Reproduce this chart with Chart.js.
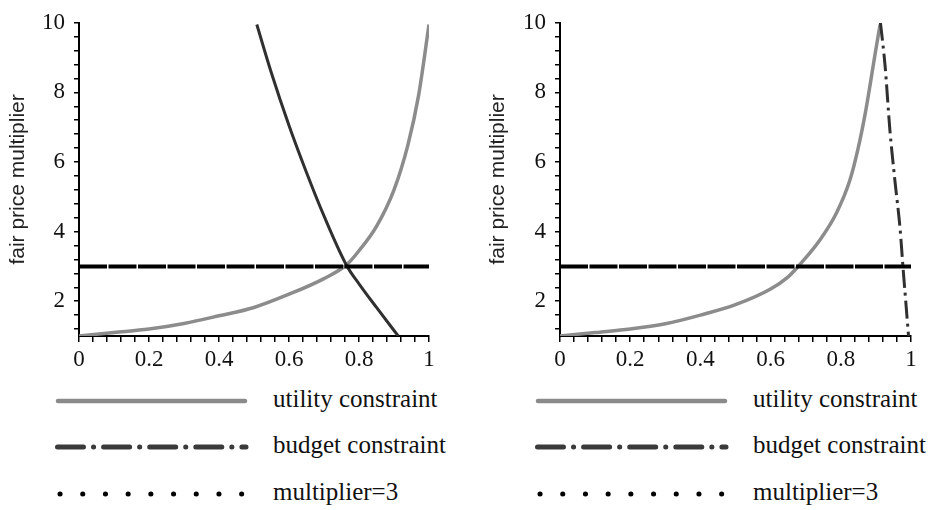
<!DOCTYPE html>
<html>
<head>
<meta charset="utf-8">
<script src="https://cdn.jsdelivr.net/npm/chart.js@4.4.1/dist/chart.umd.min.js"></script>
<style>
  body { margin: 0; background: #fff; width: 936px; height: 510px; overflow: hidden; position: relative; font-family: "Liberation Serif", "DejaVu Serif", serif; }
  .plot { position: absolute; top: 0; height: 372px; }
  #plotLeft { left: 0; width: 468px; }
  #plotRight { left: 480px; width: 456px; }
  .row { position: absolute; height: 30px; line-height: 30px; font-size: 25px; color: #111; white-space: nowrap; }
  .row svg { display: block; }
</style>
</head>
<body>
<div class="plot" id="plotLeft"><canvas id="chartLeft"></canvas></div>
<div class="plot" id="plotRight"><canvas id="chartRight"></canvas></div>
<div id="legends"></div>

<script>
// left panel
const leftUtilX = [0, 0.1, 0.2, 0.3, 0.4, 0.5, 0.6, 0.7, 0.765, 0.8, 0.85, 0.9, 0.94, 0.97, 1.0];
const leftUtilY = [1.0, 1.1, 1.2, 1.36, 1.58, 1.82, 2.2, 2.65, 3.05, 3.45, 4.15, 5.2, 6.5, 7.9, 9.95];
const leftBudgetX = [0.508, 0.55, 0.6, 0.65, 0.7, 0.765, 0.8, 0.85, 0.912];
const leftBudgetY = [9.95, 8.55, 7.05, 5.7, 4.45, 3.02, 2.5, 1.82, 1.0];

// right panel
const rightUtilX = [0, 0.1, 0.2, 0.3, 0.4, 0.5, 0.6, 0.65, 0.683, 0.74, 0.788, 0.826, 0.85, 0.869, 0.885, 0.897, 0.912];
const rightUtilY = [1.0, 1.1, 1.2, 1.35, 1.6, 1.9, 2.35, 2.7, 3.05, 3.75, 4.54, 5.48, 6.42, 7.36, 8.31, 9.06, 9.95];
const rightBudgetX = [0.913, 0.926, 0.94, 0.954, 0.969, 0.977, 0.985, 0.993];
const rightBudgetY = [10.0, 8.78, 6.9, 5.48, 4.07, 3.0, 2.0, 1.0];

// multiplier line
const multX = [0, 1];
const multY = [3, 3];

// axes
const xTickValues = [0, 0.2, 0.4, 0.6, 0.8, 1];
const xTickLabels = ['0', '0.2', '0.4', '0.6', '0.8', '1'];
const yTickValues = [2, 4, 6, 8, 10];
const yTickLabels = ['2', '4', '6', '8', '10'];
const xMinorStep = 0.04;
const yMinorStep = 0.4;

const legendLabels = ['utility constraint', 'budget constraint', 'multiplier=3'];

const serif = '"Liberation Serif", "DejaVu Serif", serif';
const sans = '"Liberation Sans", Arial, sans-serif';

function toPoints(xs, ys) {
  return xs.map((x, i) => ({ x: x, y: ys[i] }));
}

function minorTicks(min, max, step) {
  const out = [];
  const n = Math.round((max - min) / step);
  for (let i = 0; i <= n; i++) out.push(+(min + i * step).toFixed(4));
  return out;
}

function labelFor(values, labels, v) {
  const i = values.findIndex(t => Math.abs(t - v) < 1e-6);
  return i >= 0 ? labels[i] : '';
}

function makeChart(id, utilX, utilY, budgetX, budgetY, budgetDash, yWidth, rightPad) {
  const ctx = document.getElementById(id).getContext('2d');
  return new Chart(ctx, {
    type: 'scatter',
    data: {
      datasets: [
        {
          label: legendLabels[2],
          data: toPoints(multX, multY),
          showLine: true, pointRadius: 0,
          borderColor: '#000', borderWidth: 4, borderDash: [28, 1.5]
        },
        {
          label: legendLabels[1],
          data: toPoints(budgetX, budgetY),
          showLine: true, pointRadius: 0, cubicInterpolationMode: 'monotone',
          borderColor: '#303030', borderWidth: 3, borderDash: budgetDash
        },
        {
          label: legendLabels[0],
          data: toPoints(utilX, utilY),
          showLine: true, pointRadius: 0, cubicInterpolationMode: 'monotone',
          borderColor: '#8c8c8c', borderWidth: 3.5
        }
      ]
    },
    options: {
      responsive: true,
      maintainAspectRatio: false,
      animation: false,
      layout: { padding: { top: 17, right: rightPad, left: 0, bottom: 0 } },
      plugins: { legend: { display: false }, tooltip: { enabled: false } },
      scales: {
        x: {
          type: 'linear', min: 0, max: 1,
          afterBuildTicks: s => { s.ticks = minorTicks(0, 1, xMinorStep).map(v => ({ value: v })); },
          afterFit: s => { s.height = 36; },
          grid: { drawOnChartArea: false, drawTicks: true, tickLength: 6, color: '#000', lineWidth: 1.5 },
          border: { color: '#000', width: 2 },
          ticks: {
            autoSkip: false, maxRotation: 0, padding: 4, color: '#111',
            font: { family: serif, size: 23 },
            callback: v => labelFor(xTickValues, xTickLabels, v)
          }
        },
        y: {
          type: 'linear', min: 1, max: 10,
          afterBuildTicks: s => { s.ticks = minorTicks(1.2, 10, yMinorStep).map(v => ({ value: v })); },
          afterFit: s => { s.width = yWidth; },
          grid: { drawOnChartArea: false, drawTicks: true, tickLength: 5, color: '#000', lineWidth: 1.5 },
          border: { color: '#000', width: 2 },
          title: {
            display: true, text: 'fair price multiplier', color: '#222',
            font: { family: sans, size: 21, weight: 'normal' },
            padding: { top: 6, bottom: 0 }
          },
          ticks: {
            autoSkip: false, padding: 9, color: '#111',
            font: { family: serif, size: 23 },
            callback: v => labelFor(yTickValues, yTickLabels, v)
          }
        }
      }
    }
  });
}

makeChart('chartLeft', leftUtilX, leftUtilY, leftBudgetX, leftBudgetY, [], 79, 39);
makeChart('chartRight', rightUtilX, rightUtilY, rightBudgetX, rightBudgetY, [18, 5, 3, 5], 80, 25);

// legends under each panel
const legendStyles = [
  '<line x1="3" y1="15" x2="190" y2="15" stroke="#8a8a8a" stroke-width="4.5" stroke-linecap="round"/>',
  '<line x1="2.5" y1="15" x2="191" y2="15" stroke="#3a3a3a" stroke-width="5" stroke-dasharray="26 10 0.1 10" stroke-linecap="round"/>',
  '<line x1="5" y1="15" x2="190" y2="15" stroke="#000" stroke-width="5" stroke-dasharray="0.1 22.6" stroke-linecap="round"/>'
];
const legendRowsY = [401, 447, 494];
const legendPanels = [{ line: 55, text: 273 }, { line: 535, text: 753 }];
const holder = document.getElementById('legends');
legendPanels.forEach(p => {
  legendLabels.forEach((lab, i) => {
    const svgRow = document.createElement('div');
    svgRow.className = 'row';
    svgRow.style.left = p.line + 'px';
    svgRow.style.top = (legendRowsY[i] - 15) + 'px';
    svgRow.innerHTML = '<svg width="196" height="30">' + legendStyles[i] + '</svg>';
    holder.appendChild(svgRow);

    const textRow = document.createElement('div');
    textRow.className = 'row';
    textRow.style.left = p.text + 'px';
    textRow.style.top = (legendRowsY[i] - 17) + 'px';
    textRow.textContent = lab;
    holder.appendChild(textRow);
  });
});
</script>
</body>
</html>
